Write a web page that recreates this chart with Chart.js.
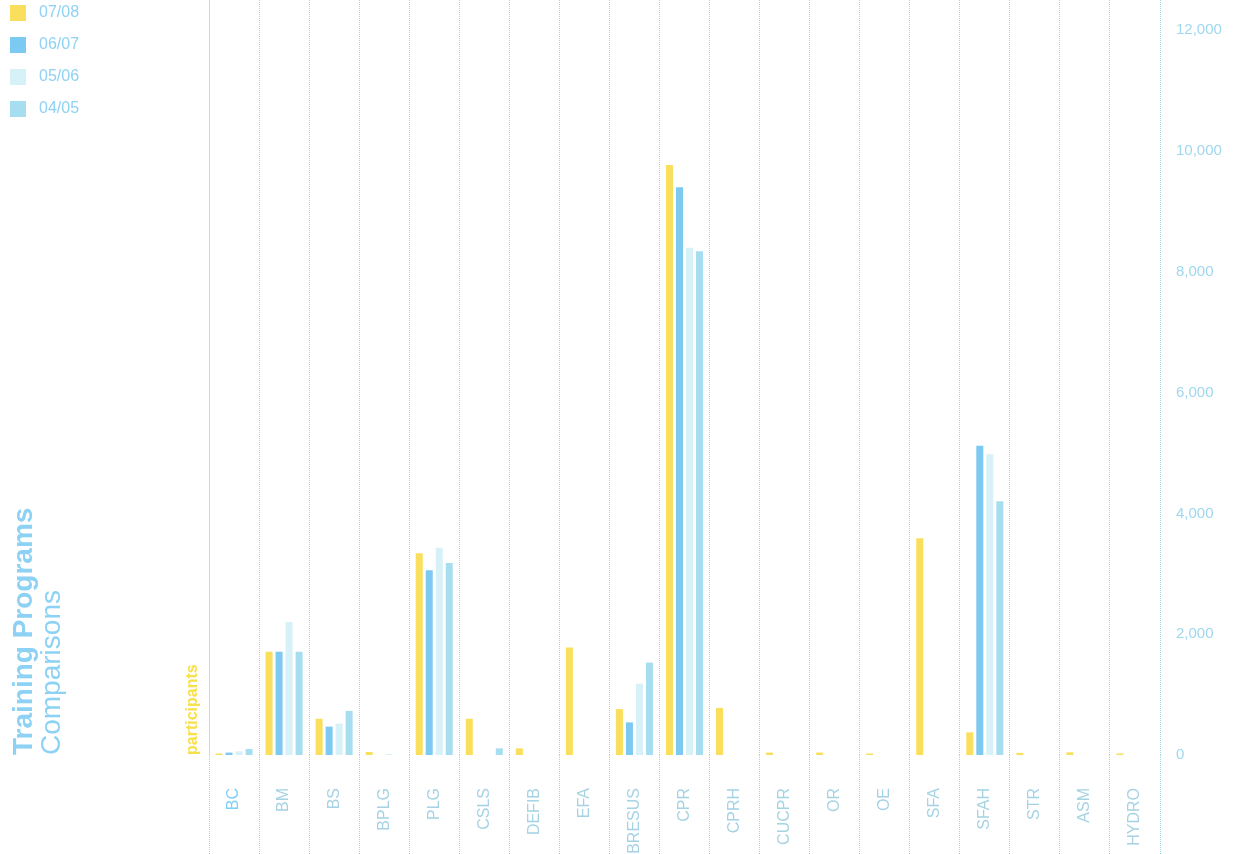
<!DOCTYPE html>
<html>
<head>
<meta charset="utf-8">
<script src="https://cdn.jsdelivr.net/npm/chart.js@4/dist/chart.umd.min.js"></script>
<style>
  html, body { margin: 0; padding: 0; background: #ffffff; }
  #wrap { width: 1244px; height: 854px; position: relative; }
</style>
</head>
<body>
<div id="wrap"><canvas id="c" width="1244" height="854"></canvas></div>
<script>
// ---- data ----
const categories = ['BC','BM','BS','BPLG','PLG','CSLS','DEFIB','EFA','BRESUS','CPR','CPRH','CUCPR','OR','OE','SFA','SFAH','STR','ASM','HYDRO'];
const seriesLabels = ['07/08','06/07','05/06','04/05'];
const s0708 = [25,1710,600,50,3340,600,110,1780,760,9770,780,40,40,25,3590,375,35,45,25];
const s0607 = [40,1710,470,0,3060,0,0,0,540,9400,0,0,0,0,0,5120,0,0,0];
const s0506 = [60,2200,520,15,3430,0,0,0,1180,8400,0,0,0,0,0,4980,0,0,0];
const s0405 = [100,1710,730,0,3180,110,0,0,1530,8340,0,0,0,0,0,4200,0,0,0];
const yTicks = [0,2000,4000,6000,8000,10000,12000];

// ---- styles ----
const FONT = "'Liberation Sans', Arial, Helvetica, sans-serif";
const colors = ['#f9df5b', '#7cc9f2', '#d6f1f7', '#a6def0'];
const gridColor = '#a3d9d9';
const blueText = '#8dd2f4';

function swatch(color) {
  const cv = document.createElement('canvas');
  cv.width = 16; cv.height = 16;
  const g = cv.getContext('2d');
  g.fillStyle = color;
  g.fillRect(0, 0, 16, 16);
  return cv;
}
const swatches = colors.map(swatch);

Chart.defaults.font.family = FONT;

const seriesValues = [s0708, s0607, s0506, s0405];

new Chart(document.getElementById('c'), {
  type: 'bar',
  data: {
    labels: categories,
    datasets: seriesValues.map((vals, i) => ({
      label: seriesLabels[i],
      data: vals,
      backgroundColor: colors[i],
      borderWidth: 0,
      yAxisID: 'y',
      categoryPercentage: 0.8,
      barPercentage: 0.7
    }))
  },
  options: {
    responsive: false,
    animation: false,
    layout: { padding: 0 },
    plugins: {
      tooltip: { enabled: false },
      legend: {
        display: true,
        position: 'left',
        align: 'start',
        weight: 3000,
        maxWidth: 79,
        labels: {
          usePointStyle: true,
          pointStyleWidth: 26,
          boxWidth: 16,
          boxHeight: 16,
          padding: 5,
          color: blueText,
          font: { size: 16, lineHeight: '27px' },
          generateLabels: (chart) => chart.data.datasets.map((ds, i) => ({
            text: [ds.label],
            fillStyle: colors[i],
            strokeStyle: colors[i],
            lineWidth: 0,
            pointStyle: swatches[i],
            hidden: false,
            datasetIndex: i,
            fontColor: blueText
          }))
        }
      },
      title: {
        display: true,
        text: 'Training Programs',
        position: 'left',
        align: 'start',
        fullSize: false,
        color: blueText,
        font: { size: 28, weight: 'bold', lineHeight: '1px' },
        padding: { top: -55.5, bottom: 55.5 }
      },
      subtitle: {
        display: true,
        text: 'Comparisons',
        position: 'left',
        align: 'start',
        fullSize: false,
        color: blueText,
        font: { size: 28, weight: 'normal', lineHeight: '1px' },
        padding: { top: -28.5, bottom: 28.5 }
      }
    },
    scales: {
      x: {
        offset: true,
        grid: {
          display: true,
          offset: true,
          color: gridColor,
          lineWidth: 1,
          drawTicks: true,
          tickLength: 99,
          tickColor: gridColor,
          tickBorderDash: [1, 1]
        },
        border: { display: false, dash: [1, 1] },
        ticks: {
          autoSkip: false,
          minRotation: 90,
          maxRotation: 90,
          padding: -66,
          font: { size: 16 },
          color: (c) => c.index === 0 ? '#7fcff5' : '#a6d3e3'
        },
        afterFit: (scale) => {
          scale.height = 99;
          scale.paddingLeft = 0;
          scale.paddingRight = 0;
        }
      },
      yL: {
        position: 'left',
        display: true,
        min: 0,
        max: 1,
        grid: { display: false, drawTicks: false },
        border: { display: true, color: '#b4e3e3', width: 1 },
        ticks: { display: false },
        title: {
          display: true,
          text: 'participants',
          align: 'start',
          color: '#f8df4c',
          font: { size: 16, weight: 'bold', lineHeight: 1.2 },
          padding: { top: 102.4, bottom: 6.4 }
        },
        afterFit: (scale) => {
          scale.width = 128;
          scale.paddingTop = 0;
          scale.paddingBottom = 0;
        }
      },
      y: {
        position: 'right',
        min: 0,
        max: 12500,
        afterBuildTicks: (scale) => { scale.ticks = yTicks.map(v => ({ value: v })); },
        grid: { display: false, drawTicks: false },
        border: { display: false },
        ticks: {
          padding: 16,
          color: '#9fd8ee',
          font: { size: 15 },
          callback: (v) => Number(v).toLocaleString('en-US')
        },
        afterFit: (scale) => {
          scale.width = 84;
          scale.paddingTop = 0;
          scale.paddingBottom = 0;
        }
      }
    }
  }
});
</script>
</body>
</html>
